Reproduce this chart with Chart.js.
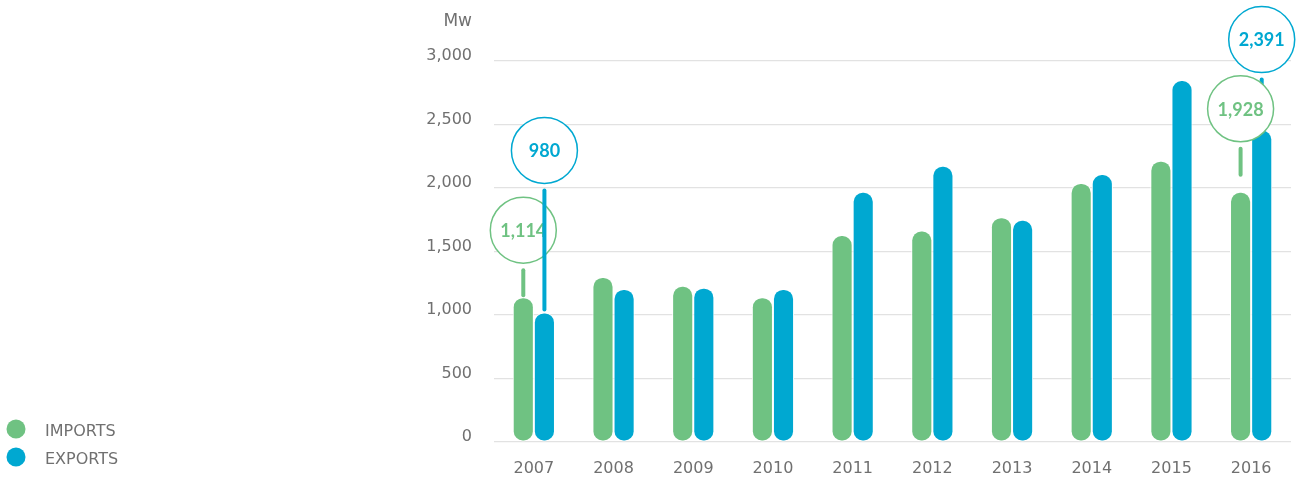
<!DOCTYPE html>
<html lang="en">
<head>
    <meta charset="UTF-8">
    <title>Imports and exports, Mw</title>
    <style>
        body { margin: 0; background: #fff; }
        .chart-box { position: relative; width: 1298px; height: 480px; }
    </style>
</head>
<body>
<div class="chart-box">
    <canvas id="trade-chart"></canvas>
</div>

<script src="https://cdn.jsdelivr.net/npm/chart.js@4/dist/chart.umd.min.js"></script>
<script>
    // Values
    const years = ['2007', '2008', '2009', '2010', '2011', '2012', '2013', '2014', '2015', '2016'];
    const imports = [1140, 1300, 1230, 1140, 1630, 1665, 1770, 2040, 2215, 1970];
    const exports = [1020, 1205, 1215, 1205, 1970, 2175, 1750, 2110, 2850, 2460];
    const yTicks = [0, 500, 1000, 1500, 2000, 2500, 3000];

    // Highlighted values shown in the bubbles
    const calloutYears = ['2007', '2007', '2016', '2016'];
    const calloutSeries = [0, 1, 1, 0];
    const calloutValues = [1114, 980, 2391, 1928];

    const GREEN = '#6fc282';
    const BLUE = '#00a8d1';
    const GREY = '#707070';
    const FONT = "'DejaVu Sans', sans-serif";

    // bubble placement: how far above the bar, and gap left under the stem
    const bubbleLift = [67, 162, 90, 83];
    const stemGap = [2, 3, 0, 17];

    const fmt = v => v.toLocaleString('en-US');

    const decorations = {
        id: 'decorations',
        afterDatasetsDraw(chart) {
            const ctx = chart.ctx;
            const colors = [GREEN, BLUE];
            ctx.save();

            // unit above the y axis
            ctx.fillStyle = GREY;
            ctx.font = '17px ' + FONT;
            ctx.textAlign = 'right';
            ctx.textBaseline = 'middle';
            ctx.fillText('Mw', 472, 22);

            // legend, bottom left
            ctx.font = '16px ' + FONT;
            ctx.textAlign = 'left';
            chart.data.datasets.forEach((ds, i) => {
                const y = 429 + i * 28;
                ctx.fillStyle = ds.backgroundColor;
                ctx.beginPath();
                ctx.arc(16, y, 9.5, 0, Math.PI * 2);
                ctx.fill();
                ctx.fillStyle = GREY;
                ctx.fillText(ds.label, 45, y + 3);
            });

            // bubbles with stems
            calloutValues.forEach((val, k) => {
                const s = calloutSeries[k];
                const idx = years.indexOf(calloutYears[k]);
                const bar = chart.getDatasetMeta(s).data[idx];
                const r = 33;
                const cx = bar.x;
                const cy = bar.y - bubbleLift[k];
                const color = colors[s];

                ctx.strokeStyle = color;
                ctx.lineWidth = 4;
                ctx.lineCap = 'round';
                ctx.beginPath();
                ctx.moveTo(cx, cy + r + 7);
                ctx.lineTo(cx, bar.y - stemGap[k]);
                ctx.stroke();

                ctx.beginPath();
                ctx.arc(cx, cy, r, 0, Math.PI * 2);
                ctx.fillStyle = '#fff';
                ctx.fill();
                ctx.lineWidth = 1.5;
                ctx.stroke();

                ctx.fillStyle = color;
                ctx.font = "bold 18px Lato, sans-serif";
                ctx.textAlign = 'center';
                ctx.textBaseline = 'middle';
                ctx.fillText(fmt(val), cx, cy + 1);
            });
            ctx.restore();
        }
    };

    const barStyle = {
        borderColor: '#fff',
        borderWidth: 1,
        borderSkipped: false,
        borderRadius: 10,
        categoryPercentage: 0.53,
        barPercentage: 1
    };

    new Chart(document.getElementById('trade-chart'), {
        type: 'bar',
        data: {
            labels: years,
            datasets: [
                Object.assign({ label: 'IMPORTS', data: imports, backgroundColor: GREEN }, barStyle),
                Object.assign({ label: 'EXPORTS', data: exports, backgroundColor: BLUE }, barStyle)
            ]
        },
        options: {
            responsive: true,
            maintainAspectRatio: false,
            animation: false,
            layout: { padding: { top: 61, right: 7, bottom: 0, left: 0 } },
            plugins: {
                legend: { display: false },
                tooltip: { enabled: false }
            },
            scales: {
                x: {
                    grid: { display: false },
                    border: { display: false },
                    ticks: { color: GREY, font: { family: FONT, size: 16 }, padding: 9 },
                    afterFit: scale => { scale.height = 38; }
                },
                y: {
                    min: 0,
                    max: 3000,
                    afterBuildTicks: scale => { scale.ticks = yTicks.map(v => ({ value: v })); },
                    grid: { color: '#e2e2e2', lineWidth: 1.2, drawTicks: false },
                    border: { display: false },
                    ticks: {
                        color: GREY,
                        font: { family: FONT, size: 16 },
                        padding: 22,
                        labelOffset: -5,
                        callback: v => fmt(v)
                    },
                    afterFit: scale => { scale.width = 494; }
                }
            }
        },
        plugins: [decorations]
    });
</script>
</body>
</html>
